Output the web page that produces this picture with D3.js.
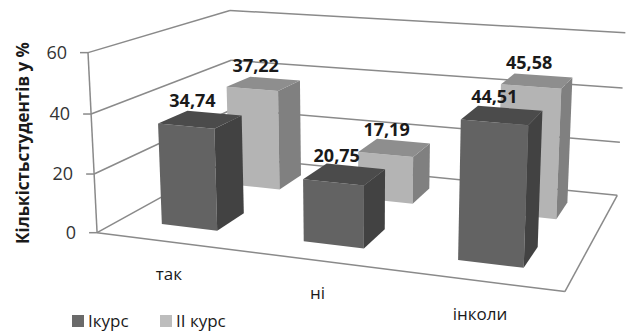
<!DOCTYPE html>
<html><head><meta charset="utf-8">
<script src="https://cdn.jsdelivr.net/npm/d3@7"></script>
<style>body{margin:0;background:#fff} text{font-family:"Open Sans",sans-serif}</style>
</head><body><svg id="c" width="626" height="333"></svg>
<script>
// ---- data ----
const categories = ["так", "ні", "інколи"];
const seriesNames = ["Ікурс", "ІІ курс"];
const seriesI = [34.74, 20.75, 44.51];
const seriesII = [37.22, 17.19, 45.58];
const yTicks = [0, 20, 40, 60];
const yTitle = "Кількістьстудентів у %";

// ---- styles ----
const faceColors = [
  {front: "#636363", side: "#424242", top: "#4b4b4b", legend: "#6a6a6a"},
  {front: "#b4b4b4", side: "#808080", top: "#8e8e8e", legend: "#bdbdbd"}
];
const gridColor = "#8a8a8a";

// ---- layout: 3D box frame calibration (world -> screen) ----
// world: X in category units [0,3], Y in [0,1] (fraction of value range), Z depth [0,1]
const frameCorners = [
  [[0, 0, 0], [97, 232]],
  [[3, 0, 0], [565, 292]],
  [[3, 0, 1], [617, 195]],
  [[0, 0, 1], [233.5, 158]],
  [[0, 1, 0], [88, 53]],
  [[0, 1, 1], [230, 10]],
  [[3, 1, 1], [625, 33]],
  [[3, 2/3, 1], [623, 88]],
  [[3, 1/3, 1], [620, 142]]
];

function fitProjection(pairs) {
  const cu = 313, cv = 166, s = 300, n = 11;
  const rows = [], rhs = [];
  pairs.forEach(([[X, Y, Z], [u0, v0]]) => {
    const u = (u0 - cu) / s, v = (v0 - cv) / s;
    rows.push([X, Y, Z, 1, 0, 0, 0, 0, -u * X, -u * Y, -u * Z]); rhs.push(u);
    rows.push([0, 0, 0, 0, X, Y, Z, 1, -v * X, -v * Y, -v * Z]); rhs.push(v);
  });
  const N = Array.from({length: n}, () => new Array(n + 1).fill(0));
  rows.forEach((r, k) => {
    for (let i = 0; i < n; i++) {
      for (let j = 0; j < n; j++) N[i][j] += r[i] * r[j];
      N[i][n] += r[i] * rhs[k];
    }
  });
  for (let c = 0; c < n; c++) {
    let piv = c;
    for (let r = c + 1; r < n; r++) if (Math.abs(N[r][c]) > Math.abs(N[piv][c])) piv = r;
    [N[c], N[piv]] = [N[piv], N[c]];
    for (let r = 0; r < n; r++) {
      if (r === c) continue;
      const f = N[r][c] / N[c][c];
      for (let k = c; k <= n; k++) N[r][k] -= f * N[c][k];
    }
  }
  const p = N.map((r, i) => r[n] / r[i]);
  return ([X, Y, Z]) => {
    const w = p[8] * X + p[9] * Y + p[10] * Z + 1;
    return [(p[0] * X + p[1] * Y + p[2] * Z + p[3]) / w * s + cu,
            (p[4] * X + p[5] * Y + p[6] * Z + p[7]) / w * s + cv];
  };
}
const proj = fitProjection(frameCorners);

// ---- scales ----
const x = d3.scaleBand().domain(categories).range([0, 3]).paddingInner(0.6).paddingOuter(0.3);
const z = d3.scaleBand().domain(seriesNames).range([0, 1]).paddingInner(0.6).paddingOuter(0.3);
const y = d3.scaleLinear().domain([0, 60]).range([0, 1]);
const X0 = 0, X1 = 3, Z0 = 0, Z1 = 1;

const svg = d3.select("#c");
const line = d3.line();
const poly = pts => "M" + pts.map(p => proj(p).join(",")).join("L") + "Z";
const seg = (a, b) => line([proj(a), proj(b)]);

// ---- walls / gridlines ----
const g = svg.append("g").attr("fill", "none").attr("stroke", gridColor).attr("stroke-width", 1.5);
yTicks.forEach(t => {
  g.append("path").attr("d", seg([X0, y(t), Z0], [X0, y(t), Z1]));
  g.append("path").attr("d", seg([X0, y(t), Z1], [X1, y(t), Z1]));
});
// floor outline
g.append("path").attr("d", seg([X0, 0, Z0], [X1, 0, Z0]));
g.append("path").attr("d", seg([X1, 0, Z0], [X1, 0, Z1]));
// vertical axis
g.append("path").attr("d", seg([X0, 0, Z0], [X0, 1, Z0]));
// ticks
yTicks.forEach(t => {
  const [px, py] = proj([X0, y(t), Z0]);
  g.append("path").attr("d", line([[px - 8, py], [px, py]]));
  svg.append("text").attr("x", px - 21).attr("y", py).attr("dy", "0.35em")
    .attr("text-anchor", "end").attr("font-size", 18).attr("fill", "#333").text(t);
});

// ---- bars ----
const series = [seriesI, seriesII];
const bars = [];
[1, 0].forEach(si => {
  categories.forEach((c, ci) => {
    const v = series[si][ci];
    const x0 = x(c), x1 = x(c) + x.bandwidth();
    const z0 = z(seriesNames[si]), z1 = z0 + z.bandwidth();
    const h = y(v);
    bars.push({si, ci, v, x0, x1, z0, z1, h});
  });
});
const bg = svg.append("g");
bars.forEach(b => {
  const col = faceColors[b.si];
  bg.append("path").attr("d", poly([[b.x0, 0, b.z0], [b.x1, 0, b.z0], [b.x1, b.h, b.z0], [b.x0, b.h, b.z0]])).attr("fill", col.front);
  bg.append("path").attr("d", poly([[b.x1, 0, b.z0], [b.x1, 0, b.z1], [b.x1, b.h, b.z1], [b.x1, b.h, b.z0]])).attr("fill", col.side);
  bg.append("path").attr("d", poly([[b.x0, b.h, b.z0], [b.x1, b.h, b.z0], [b.x1, b.h, b.z1], [b.x0, b.h, b.z1]])).attr("fill", col.top);
});

// ---- data labels ----
bars.forEach(b => {
  const [px, py] = proj([(b.x0 + b.x1) / 2, b.h, (b.z0 + b.z1) / 2]);
  svg.append("text").attr("x", px - 8).attr("y", py - 12)
    .attr("text-anchor", "middle").attr("font-size", 18).attr("font-weight", "bold").attr("fill", "#1a1a1a")
    .text(b.v.toFixed(2).replace(".", ","));
});

// ---- category labels ----
categories.forEach(c => {
  const [px, py] = proj([x(c) + x.bandwidth() / 2, 0, Z0]);
  svg.append("text").attr("x", px + 2).attr("y", py + 39)
    .attr("text-anchor", "middle").attr("font-size", 17).attr("fill", "#1a1a1a").text(c);
});

// ---- y title ----
svg.append("text").attr("transform", "translate(29,143) rotate(-90)")
  .attr("text-anchor", "middle").attr("font-size", 17).attr("font-weight", "bold").attr("fill", "#1a1a1a").text(yTitle);

// ---- legend ----
const lg = svg.append("g").attr("transform", "translate(72,315)");
const legX = [0, 88];
seriesNames.forEach((s, i) => {
  lg.append("rect").attr("x", legX[i]).attr("y", 0).attr("width", 12).attr("height", 12).attr("fill", faceColors[i].legend);
  lg.append("text").attr("x", legX[i] + 16).attr("y", 6).attr("dy", "0.36em").attr("font-size", 17).attr("fill", "#1a1a1a").text(s);
});
</script>
</body></html>
